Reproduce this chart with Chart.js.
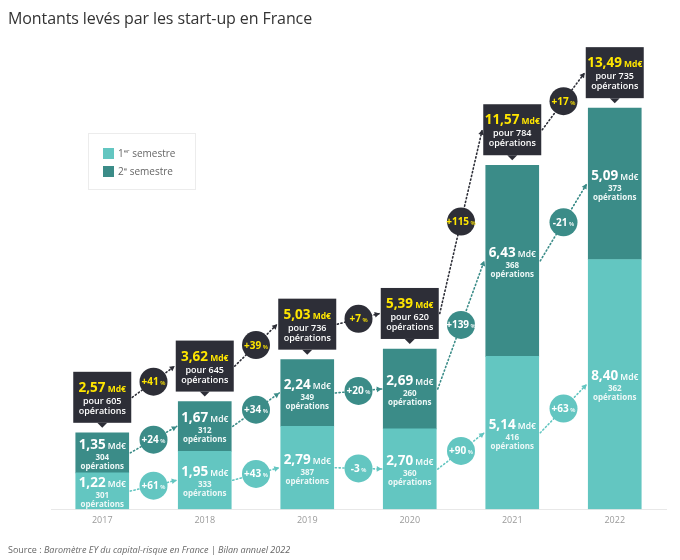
<!DOCTYPE html>
<html lang="fr">
<head>
<meta charset="utf-8">
<title>Montants levés par les start-up en France</title>
<script src="https://cdn.jsdelivr.net/npm/chart.js@4.4.0/dist/chart.umd.min.js"></script>
<style>
  html, body { margin: 0; padding: 0; background: #fff; }
  body { width: 680px; height: 560px; position: relative; overflow: hidden; font-family: 'Open Sans', sans-serif; }
  #chart { position: absolute; left: 0; top: 0; }
  h1 { position: absolute; left: 8px; top: 7px; margin: 0; font-size: 16px; font-weight: 400; color: #333; letter-spacing: -0.1px; }
  .legend { position: absolute; left: 88px; top: 133px; width: 108px; height: 57px; border: 1px solid #ececec; box-sizing: border-box; }
  .legend div { position: absolute; left: 14px; font-size: 10px; color: #666; line-height: 11px; white-space: nowrap; }
  .legend span.sw { display: inline-block; width: 11px; height: 11px; vertical-align: top; margin-right: 4px; }
  .legend sup { font-size: 6px; vertical-align: top; line-height: 6px; }
  .source { position: absolute; left: 8px; top: 543px; font-size: 9px; color: #666; }
  .source i { font-style: italic; }
</style>
</head>
<body>
<canvas id="chart" width="680" height="560"></canvas>
<h1>Montants levés par les start-up en France</h1>
<div class="legend">
  <div style="top:14px"><span class="sw" style="background:#63c6c1"></span>1<sup>er</sup> semestre</div>
  <div style="top:32px"><span class="sw" style="background:#3b8c88"></span>2<sup>e</sup> semestre</div>
</div>
<div class="source">Source : <i>Baromètre EY du capital-risque en France | Bilan annuel 2022</i></div>

<script>
'use strict';

/* DATA */
const years = ['2017', '2018', '2019', '2020', '2021', '2022'];
const sem1 = [1.22, 1.95, 2.79, 2.70, 5.14, 8.40];
const sem2 = [1.35, 1.67, 2.24, 2.69, 6.43, 5.09];
const totals = [2.57, 3.62, 5.03, 5.39, 11.57, 13.49];
const ops1 = [301, 333, 387, 360, 416, 362];
const ops2 = [304, 312, 349, 260, 368, 373];
const opsTotal = [605, 645, 736, 620, 784, 735];
const growth1 = ['+61', '+43', '-3', '+90', '+63'];
const growth2 = ['+24', '+34', '+20', '+139', '-21'];
const growthTotal = ['+41', '+39', '+7', '+115', '+17'];

/* COLOURS */
const C_LIGHT = '#63c6c1';
const C_DARK = '#3b8c88';
const C_BOX = '#2d2e37';
const C_YELLOW = '#ffe600';
const FONT = "'Open Sans', sans-serif";

function fmt(v) { return v.toFixed(2).replace('.', ','); }

// big number + small unit, centred on x, on one baseline
function twoPart(ctx, x, y, big, bigFont, small, smallFont, color) {
  ctx.font = bigFont; const w1 = ctx.measureText(big).width;
  ctx.font = smallFont; const w2 = ctx.measureText(small).width;
  const x0 = x - (w1 + w2) / 2;
  ctx.fillStyle = color; ctx.textAlign = 'left'; ctx.textBaseline = 'alphabetic';
  ctx.font = bigFont; ctx.fillText(big, x0, y);
  ctx.font = smallFont; ctx.fillText(small, x0 + w1, y);
}

function line(ctx, x, y, txt, font, color) {
  ctx.font = font; ctx.fillStyle = color; ctx.textAlign = 'center'; ctx.textBaseline = 'alphabetic';
  ctx.fillText(txt, x, y);
}

function dotted(ctx, x1, y1, x2, y2, color) {
  ctx.save();
  ctx.strokeStyle = color; ctx.fillStyle = color;
  ctx.lineWidth = 1.6; ctx.setLineDash([1.2, 2.6]); ctx.lineCap = 'round';
  ctx.beginPath(); ctx.moveTo(x1, y1); ctx.lineTo(x2, y2); ctx.stroke();
  ctx.setLineDash([]);
  ctx.translate(x2, y2); ctx.rotate(Math.atan2(y2 - y1, x2 - x1));
  ctx.beginPath(); ctx.moveTo(0, 0); ctx.lineTo(-5, -2.8); ctx.lineTo(-5, 2.8); ctx.closePath(); ctx.fill();
  ctx.restore();
}

function bubble(ctx, x, y, txt, bg, fg) {
  ctx.beginPath(); ctx.arc(x, y, 14, 0, Math.PI * 2);
  ctx.fillStyle = bg; ctx.fill();
  twoPart(ctx, x, y + 3.5, txt, '700 10px ' + FONT, ' %', '600 6px ' + FONT, fg);
}

/* ANNOTATIONS PLUGIN */
const annotations = {
  id: 'annotations',
  afterDatasetsDraw(chart) {
    const ctx = chart.ctx;
    const xs = chart.scales.x, ys = chart.scales.y;
    const half = 27, boxW = 58, boxH = 51, gap = 10;
    const cx = years.map((_, i) => xs.getPixelForValue(i));
    const y0 = ys.getPixelForValue(0);
    const c1 = sem1.map(v => (y0 + ys.getPixelForValue(v)) / 2);
    const c2 = sem1.map((v, i) => (ys.getPixelForValue(v) + ys.getPixelForValue(v + sem2[i])) / 2);
    const boxTop = totals.map(v => ys.getPixelForValue(v) - gap - boxH);
    const cb = boxTop.map(t => t + boxH / 2);

    ctx.save();
    // connecting lines + bubbles
    for (let i = 0; i < years.length - 1; i++) {
      const xa = cx[i], xb = cx[i + 1], xm = (xa + xb) / 2;
      dotted(ctx, xa + half + 1, c1[i], xb - half - 1, c1[i + 1], C_LIGHT);
      dotted(ctx, xa + half + 1, c2[i], xb - half - 1, c2[i + 1], C_DARK);
      dotted(ctx, xa + boxW / 2 + 1, cb[i], xb - boxW / 2 - 1, cb[i + 1], C_BOX);
      bubble(ctx, xm, (c1[i] + c1[i + 1]) / 2, growth1[i], C_LIGHT, '#fff');
      bubble(ctx, xm, (c2[i] + c2[i + 1]) / 2, growth2[i], C_DARK, '#fff');
      bubble(ctx, xm, (cb[i] + cb[i + 1]) / 2, growthTotal[i], C_BOX, C_YELLOW);
    }

    // segment labels
    years.forEach((_, i) => {
      [[c1[i], sem1[i], ops1[i]], [c2[i], sem2[i], ops2[i]]].forEach(([cy, v, n]) => {
        twoPart(ctx, cx[i], cy - 4, fmt(v), '700 13.5px ' + FONT, ' Md€', '600 8.5px ' + FONT, '#fff');
        line(ctx, cx[i], cy + 7, String(n), '700 8px ' + FONT, '#eef8f7');
        line(ctx, cx[i], cy + 16, 'opérations', '700 8px ' + FONT, '#eef8f7');
      });

      // total callout
      const t = boxTop[i], x = cx[i];
      ctx.fillStyle = C_BOX;
      ctx.fillRect(x - boxW / 2, t, boxW, boxH);
      ctx.beginPath();
      ctx.moveTo(x - 5, t + boxH); ctx.lineTo(x + 5, t + boxH); ctx.lineTo(x, t + boxH + 5); ctx.closePath();
      ctx.fill();
      twoPart(ctx, x, t + 20, fmt(totals[i]), '700 13.5px ' + FONT, ' Md€', '700 8.5px ' + FONT, C_YELLOW);
      line(ctx, x, t + 32, 'pour ' + opsTotal[i], '600 9px ' + FONT, '#fff');
      line(ctx, x, t + 42, 'opérations', '600 9px ' + FONT, '#fff');
    });
    ctx.restore();
  }
};

/* CHART */
new Chart(document.getElementById('chart'), {
  type: 'bar',
  data: {
    labels: years,
    datasets: [
      { label: '1er semestre', data: sem1, backgroundColor: C_LIGHT, borderWidth: 0, barThickness: 53 },
      { label: '2e semestre', data: sem2, backgroundColor: C_DARK, borderWidth: 0, barThickness: 53 }
    ]
  },
  options: {
    responsive: false,
    animation: false,
    layout: { padding: { left: 51, right: 14, top: 93, bottom: 28 } },
    plugins: { legend: { display: false }, tooltip: { enabled: false } },
    scales: {
      x: {
        stacked: true,
        grid: { display: false, drawTicks: false },
        border: { display: true, color: '#e8e8e8' },
        ticks: { color: '#9a9a9a', font: { family: "'Open Sans'", size: 9 }, padding: 6 }
      },
      y: { stacked: true, display: false, min: 0, max: 14 }
    }
  },
  plugins: [annotations]
});
</script>
</body>
</html>
